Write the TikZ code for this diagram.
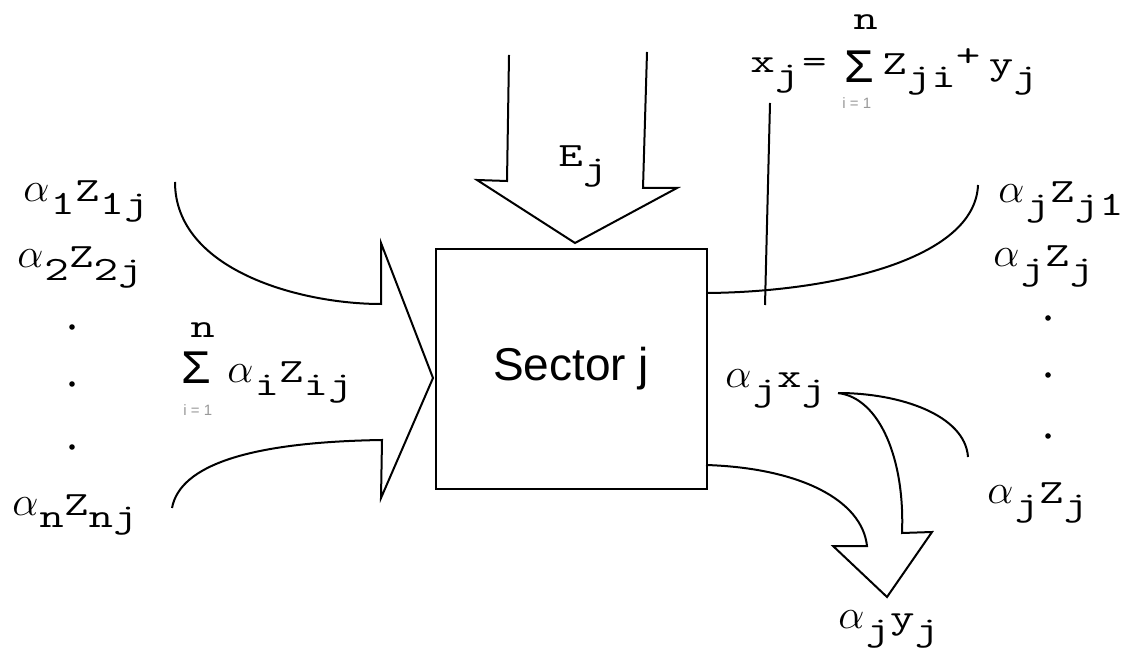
\documentclass[tikz,border=0pt]{standalone}
\usepackage{fontspec}
\setmainfont{Liberation Sans}
\newfontfamily\sigfont{Liberation Mono}
\usetikzlibrary{positioning,calc}
\tikzset{
  outline/.style={draw=black, line width=1pt, line join=miter},
  lab/.style={font=\ttfamily\fontsize{17}{21}\selectfont, inner sep=0pt, anchor=base west},
  sig/.style={font=\sigfont\fontsize{24}{28}\selectfont, inner sep=0pt, anchor=base west,
              text height=16pt, text depth=0pt},
  lim/.style={font=\fontsize{7.5}{8}\selectfont, text=black!40, inner sep=0pt, anchor=west},
  sectorbox/.style={draw, line width=1pt, minimum width=135.5pt, minimum height=120pt,
                    inner sep=0pt, font=\fontsize{23}{27}\selectfont}
}
\newcommand{\dn}[1]{\raisebox{-0.36em}{#1}}
\newcommand{\wide}[1]{\scalebox{1.4}[1]{#1}}
\newcommand{\al}{{\fontsize{20}{20}\selectfont$\alpha$}\hspace{0.5pt}}

\begin{document}
\begin{tikzpicture}[x=0.5pt,y=-0.5pt]
  \useasboundingbox (0,0) rectangle (1127,656);
  % the sector
  \node[sectorbox] (sec) at (571,369) {Sector j};
  % inputs on the left
  \node[lab] (a1) at (23,202) {\al\wide{\dn{1}Z\dn{1j}}};
  \node[lab] (a2) at (17,268) {\al\wide{\dn{2}Z\dn{2j}}};
  \node[lab] (an) at (12,515) {\al\wide{\dn{n}Z\dn{nj}}};
  \foreach \y [count=\k] in {327,384,447}
    \fill (72,\y) circle (2.8) coordinate (ld\k);
  \node[lab, text depth=0pt] (lsn) at (190,338) {\wide{n}};
  \node[sig] (lsig) at (181,384) {Σ};
  \node[lab] (lsum) at (227,383) {\al\wide{\dn{i}Z\dn{ij}}};
  \node[lim] (llim) at (183,410) {i = 1};
  \coordinate (lin1) at (175,182);
  \coordinate (lin2) at (172,508);
  \draw[outline] (lin1) .. controls (175,270) and (300,304) .. (381,304)
    -- (381,243) -- (433,378) -- (381,498) -- (382,440)
    .. controls (250,442) and (180,465) .. (lin2);
  % input from the top
  \node[lab] (ej) at (558,167) {\wide{E\dn{j}}};
  \draw[outline] (509,55) -- (507,181) -- (477,180) -- (575,243)
    -- (677,188) -- (643,188) -- (647,52);
  % balance equation
  \node[lab] (xeq) at (750,73) {\wide{x\dn{j}\hspace{1pt}=}};
  \node[lab, text depth=0pt] (xn) at (853,30) {\wide{n}};
  \node[sig] (xsig) at (844,83) {Σ};
  \node[lab] (xsum) at (882,75) {\wide{Z\dn{ji}\raisebox{0.25em}{+}\hspace{3pt}y\dn{j}}};
  \node[lim] (xlim) at (842,103) {i = 1};
  \draw[outline] (770,103) -- (765,305);
  % outputs on the right
  \node[lab] (o1) at (998,203) {\al\wide{\dn{j}Z\dn{j1}}};
  \node[lab] (o2) at (993,267) {\al\wide{\dn{j}Z\dn{j}}};
  \foreach \y [count=\k] in {318,375,436}
    \fill (1048,\y) circle (2.8) coordinate (rd\k);
  \node[lab] (on) at (987,503) {\al\wide{\dn{j}Z\dn{j}}};
  \node[lab] (ox) at (725,388) {\al\wide{\dn{j}x\dn{j}}};
  \node[lab] (oy) at (838,628) {\al\wide{\dn{j}y\dn{j}}};
  \coordinate (ro1) at (978,185);
  \coordinate (rox) at (838,393);
  \draw[outline] (707,293) .. controls (830,292) and (975,260) .. (ro1);
  \draw[outline] (rox) .. controls (900,393) and (965,415) .. (968,457);
  \draw[outline] (706,465) .. controls (800,468) and (862,500) .. (867,546)
    -- (833,546) -- (887,597) -- (932,532) -- (902,533)
    .. controls (905,460) and (880,398) .. (rox);
\end{tikzpicture}
\end{document}
